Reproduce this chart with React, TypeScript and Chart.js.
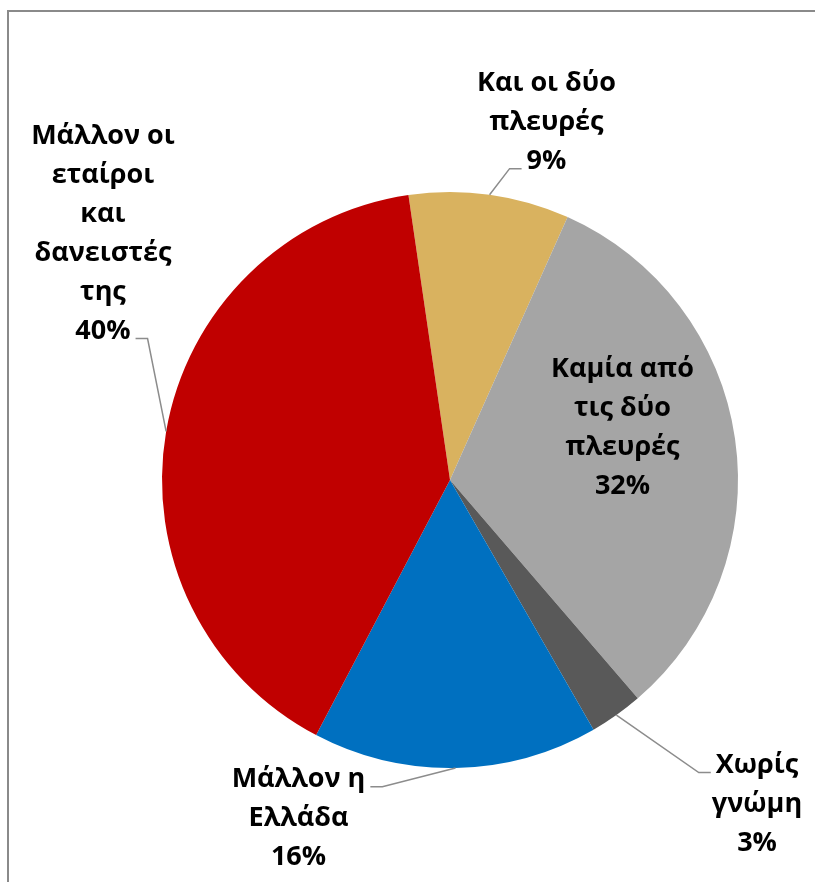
import React, { useEffect, useRef } from "react";
import { Chart, registerables } from "chart.js";

Chart.register(...registerables);

// Category names (split into the lines shown on the chart)
const categories: string[][] = [
  ["Και οι δύο", "πλευρές"],
  ["Καμία από", "τις δύο", "πλευρές"],
  ["Χωρίς", "γνώμη"],
  ["Μάλλον η", "Ελλάδα"],
  ["Μάλλον οι", "εταίροι", "και", "δανειστές", "της"],
];

// Percent shares
const values: number[] = [9, 32, 3, 16, 40];

const colors: string[] = ["#D9B25F", "#A5A5A5", "#595959", "#0070C0", "#C00000"];

// Label placement relative to pie centre, in units of the radius
const labelLayout = [
  { dx: 0.335, dy: -1.25, attach: "last", side: "left" },
  { dx: 0.599, dy: -0.1875, attach: null, side: null },
  { dx: 1.066, dy: 1.118, attach: "first", side: "left" },
  { dx: -0.526, dy: 1.167, attach: "first", side: "right" },
  { dx: -1.205, dy: -0.863, attach: "last", side: "right" },
];

const FONT_SIZE = 27;
const LINE_H = 39;
const FONT = `bold ${FONT_SIZE}px "Open Sans", "Noto Sans", sans-serif`;

const labelPlugin = {
  id: "pieLabels",
  afterDatasetsDraw(chart: any) {
    const ctx: CanvasRenderingContext2D = chart.ctx;
    const meta = chart.getDatasetMeta(0);
    const data = chart.data.datasets[0].data as number[];
    const total = data.reduce((a, b) => a + b, 0);
    const capOff = FONT_SIZE * 0.357;
    ctx.save();
    ctx.font = FONT;
    meta.data.forEach((arc: any, i: number) => {
      const { x, y, startAngle, endAngle, outerRadius } = arc.getProps(
        ["x", "y", "startAngle", "endAngle", "outerRadius"],
        true
      );
      const R = outerRadius;
      const lay = labelLayout[i];
      const lines = [...categories[i], Math.round((data[i] / total) * 100) + "%"];
      const cx = x + lay.dx * R;
      const cy = y + lay.dy * R;
      const top = cy - ((lines.length - 1) / 2) * LINE_H;
      ctx.fillStyle = "#000000";
      ctx.textAlign = "center";
      ctx.textBaseline = "alphabetic";
      lines.forEach((t, k) => ctx.fillText(t, cx, top + k * LINE_H + capOff));
      if (lay.attach) {
        const k = lay.attach === "first" ? 0 : lines.length - 1;
        const w = ctx.measureText(lines[k]).width;
        const by = top + k * LINE_H + capOff;
        const dir = lay.side === "left" ? -1 : 1;
        const x0 = cx + dir * (w / 2 + 5);
        const x1 = x0 + dir * 12;
        const mid = (startAngle + endAngle) / 2;
        const ex = x + R * Math.cos(mid);
        const ey = y + R * Math.sin(mid);
        ctx.strokeStyle = "#8C8C8C";
        ctx.lineWidth = 1.5;
        ctx.beginPath();
        ctx.moveTo(x0, by);
        ctx.lineTo(x1, by);
        ctx.lineTo(ex, ey);
        ctx.stroke();
      }
    });
    ctx.restore();
  },
};

export default function App() {
  const canvasRef = useRef<HTMLCanvasElement | null>(null);

  useEffect(() => {
    if (!canvasRef.current) return;
    const chart = new Chart(canvasRef.current, {
      type: "pie",
      data: {
        labels: categories.map((c) => c.join(" ")),
        datasets: [
          {
            data: values,
            backgroundColor: colors,
            borderWidth: 0,
          },
        ],
      },
      options: {
        responsive: false,
        animation: false,
        devicePixelRatio: 1,
        rotation: -8.3,
        layout: { padding: { left: 162, right: 77, top: 192, bottom: 114 } },
        plugins: {
          legend: { display: false },
          tooltip: { enabled: false },
        },
      },
      plugins: [labelPlugin],
    });
    return () => chart.destroy();
  }, []);

  return (
    <div
      style={{
        position: "fixed",
        left: 0,
        top: 0,
        width: 815,
        height: 882,
        overflow: "hidden",
        background: "#ffffff",
      }}
    >
      <div
        style={{
          position: "absolute",
          left: 7,
          top: 10,
          width: 1000,
          height: 1000,
          border: "2px solid #8A8A8A",
        }}
      />
      <canvas
        ref={canvasRef}
        width={815}
        height={882}
        style={{ position: "absolute", left: 0, top: 0, display: "block" }}
      />
    </div>
  );
}
